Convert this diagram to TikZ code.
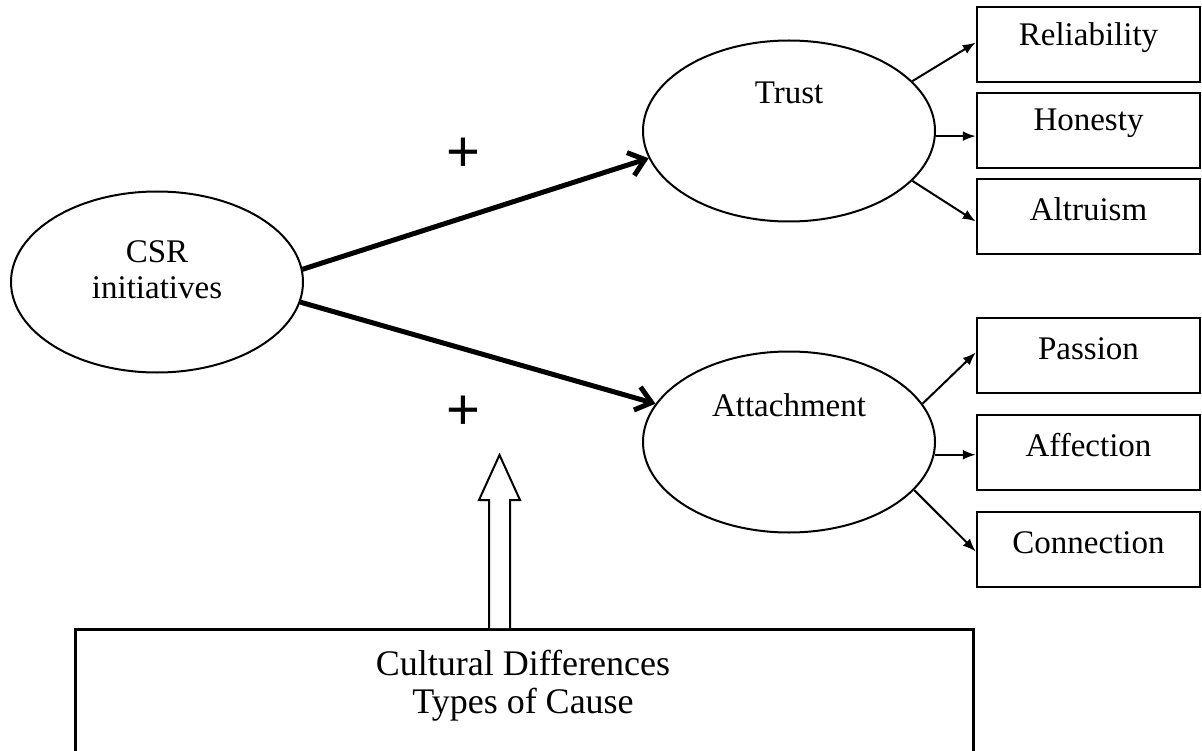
\documentclass[tikz,border=0pt]{standalone}
\usepackage{fontspec}
\setmainfont{Liberation Serif}
\newfontfamily\plusfont{Liberation Sans}
\usetikzlibrary{shapes.geometric,arrows.meta,calc}
\begin{document}
\begin{tikzpicture}[x=1pt,y=-1pt,
  oval/.style={ellipse, draw, line width=2pt, minimum width=292pt, minimum height=181pt, inner sep=0pt},
  lbl/.style={font=\fontsize{33}{36}\selectfont, align=center, inner sep=0pt},
  bigtxt/.style={font=\fontsize{36}{38}\selectfont, align=center, inner sep=0pt},
  itembox/.style={draw, line width=2.5pt, minimum width=223pt, minimum height=75pt, inner sep=0pt},
  mainarrow/.style={line width=5pt, -{Straight Barb[length=15pt,width=24pt]}},
  subarrow/.style={line width=2pt, -{Latex[length=13pt,width=10pt]}},
  plussign/.style={font=\plusfont\fontsize{58}{58}\selectfont, inner sep=0pt},
]
\useasboundingbox (0,0) rectangle (1202,751);
\fill[white] (0,0) rectangle (1202,751);

% ellipses
\node[oval] (csr) at (157,282) {};
\node[oval] (trust) at (789,131) {};
\node[oval] (att) at (789,442) {};
\node[lbl] (csrtxt) at (157,270) {CSR\\initiatives};
\node[lbl] (trusttxt) at (789,93) {Trust};
\node[lbl] (atttxt) at (789,405) {Attachment};

% item boxes
\node[itembox] (rel) at (1088.5,44.5) {};
\node[itembox] (hon) at (1088.5,130.5) {};
\node[itembox] (alt) at (1088.5,216.5) {};
\node[itembox] (pas) at (1088.5,355.5) {};
\node[itembox] (aff) at (1088.5,452.5) {};
\node[itembox] (con) at (1088.5,549.5) {};
\node[lbl] (reltxt) at ($(rel.center)+(0,-7)$) {Reliability};
\node[lbl] (hontxt) at ($(hon.center)+(0,-7)$) {Honesty};
\node[lbl] (alttxt) at ($(alt.center)+(0,-7)$) {Altruism};
\node[lbl] (pastxt) at ($(pas.center)+(0,-7)$) {Passion};
\node[lbl] (afftxt) at ($(aff.center)+(0,-7)$) {Affection};
\node[lbl] (contxt) at ($(con.center)+(0,-7)$) {Connection};

% bottom box
\node[draw, line width=3pt, minimum width=898pt, minimum height=160pt, anchor=north west, inner sep=0pt] (cause) at (74,628) {};
\node[bigtxt] (causetxt) at (523,686) {Cultural Differences\\Types of Cause};

% plus signs
\node[plussign] (plus1) at (463,155) {+};
\node[plussign] (plus2) at (463,413) {+};

% main arrows
\draw[mainarrow] (csr.5) -- (trust.191);
\draw[mainarrow] (csr.-8) -- (att.164);

% sub arrows
\draw[subarrow] (trust.22) -- ($(rel.west)+(0,-2)$);
\draw[subarrow] (trust.-2) -- (trust.-2 -| hon.west);
\draw[subarrow] (trust.-22) -- ($(alt.west)+(0,5)$);
\draw[subarrow] (att.16) -- ($(pas.west)+(0,-3)$);
\draw[subarrow] (att.-5) -- (att.-5 -| aff.west);
\draw[subarrow] (att.-21) -- ($(con.west)+(0,2)$);

% hollow moderation arrow
\coordinate (modfoot) at (cause.north -| 499.5,0);
\draw[line width=2pt, fill=white, line join=miter]
  ($(modfoot)+(-10.5,0)$) -- ++(0,-128) -- ++(-10,0) -- ++(20.5,-45)
  -- ++(20.5,45) -- ++(-10,0) -- ++(0,128);
\end{tikzpicture}
\end{document}
